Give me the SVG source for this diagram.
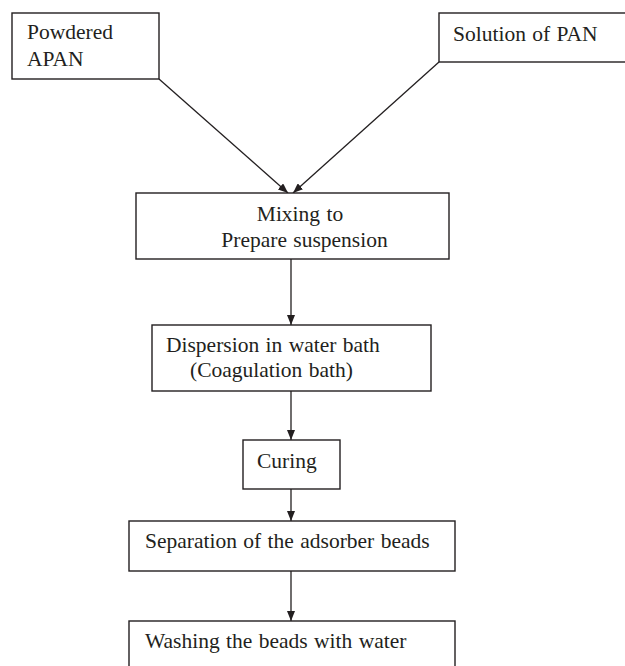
<svg xmlns="http://www.w3.org/2000/svg" width="625" height="666" viewBox="0 0 625 666">
<style>
.box{fill:#fff;stroke:#231f20;stroke-width:1.4}
.t{font-family:"Liberation Serif","Times New Roman",serif;font-size:21.5px;word-spacing:1px;fill:#231f20}
.c{stroke:#231f20;stroke-width:1.3;fill:none}
</style>
<defs>
<marker id="ah" viewBox="0 0 10 8" refX="10" refY="4" markerWidth="10" markerHeight="8" markerUnits="userSpaceOnUse" orient="auto">
<path d="M0,0 L10,4 L0,8 Z" fill="#231f20"/>
</marker>
</defs>
<rect width="625" height="666" fill="#fff"/>
<g id="connectors">
<line class="c" x1="159" y1="79" x2="288" y2="193" marker-end="url(#ah)"/>
<line class="c" x1="439" y1="62" x2="293" y2="193" marker-end="url(#ah)"/>
<line class="c" x1="291" y1="259" x2="291" y2="325" marker-end="url(#ah)"/>
<line class="c" x1="291" y1="391" x2="291" y2="440" marker-end="url(#ah)"/>
<line class="c" x1="291" y1="489" x2="291" y2="521" marker-end="url(#ah)"/>
<line class="c" x1="291" y1="571" x2="291" y2="621" marker-end="url(#ah)"/>
</g>
<g id="powdered">
<rect class="box" x="12" y="13" width="147" height="66"/>
<text class="t" x="27" y="39">Powdered</text>
<text class="t" x="27" y="66">APAN</text>
</g>
<g id="solution">
<rect class="box" x="439" y="13" width="190" height="49"/>
<text class="t" x="453" y="41">Solution of PAN</text>
</g>
<g id="mixing">
<rect class="box" x="136" y="193" width="313" height="66"/>
<text class="t" x="300" y="221" text-anchor="middle">Mixing to</text>
<text class="t" x="304.5" y="247" text-anchor="middle">Prepare suspension</text>
</g>
<g id="dispersion">
<rect class="box" x="152" y="325" width="279" height="66"/>
<text class="t" x="166" y="352">Dispersion in water bath</text>
<text class="t" x="190" y="377">(Coagulation bath)</text>
</g>
<g id="curing">
<rect class="box" x="243" y="440" width="97" height="49"/>
<text class="t" x="257" y="468">Curing</text>
</g>
<g id="separation">
<rect class="box" x="129" y="521" width="326" height="50"/>
<text class="t" x="145" y="548">Separation of the adsorber beads</text>
</g>
<g id="washing">
<rect class="box" x="129" y="621" width="326" height="60"/>
<text class="t" x="145" y="648">Washing the beads with water</text>
</g>
</svg>
